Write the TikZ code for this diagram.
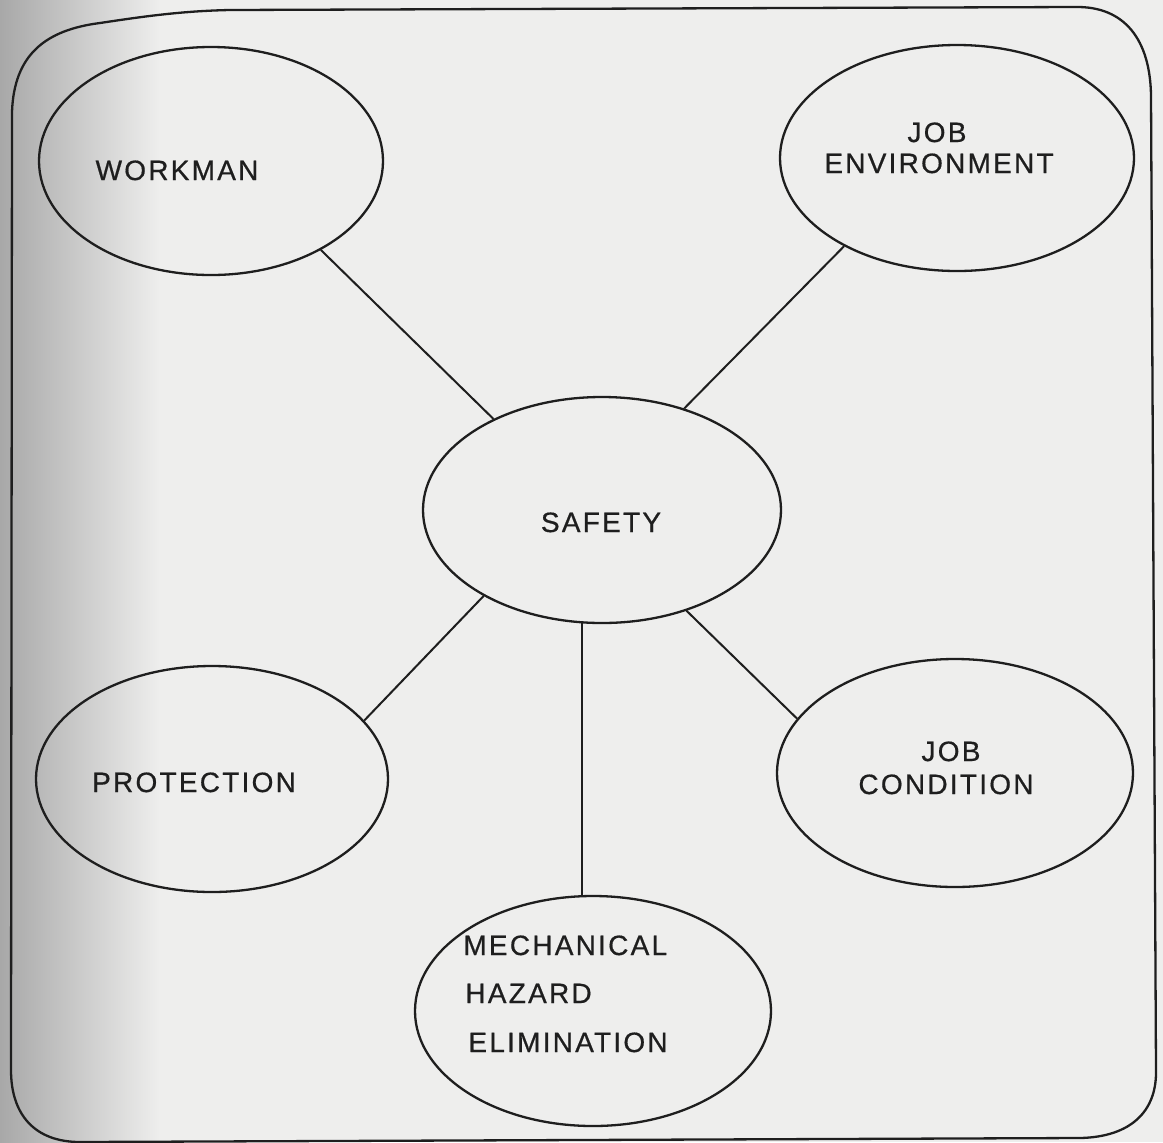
\documentclass[tikz,border=0pt]{standalone}
\usepackage{fontspec}
\setmainfont{Liberation Sans}[LetterSpace=8, FakeBold=0.6]
\usetikzlibrary{shapes.geometric}
\definecolor{page}{RGB}{238,238,237}
\definecolor{edge}{RGB}{168,168,168}
\definecolor{ink}{RGB}{30,30,30}
\begin{document}
\begin{tikzpicture}[x=0.5pt,y=-0.5pt,
  bubble/.style={draw=ink, line width=1.15pt, ellipse, inner sep=0pt},
  lbl/.style={font=\fontsize{14}{16}\selectfont, text=ink, inner sep=0pt, anchor=base},
  lblw/.style={lbl, anchor=base west},
  link/.style={draw=ink, line width=1pt}]
% paper
\fill[page] (0,0) rectangle (1163,1142);
\shade[left color=edge, right color=page] (0,0) rectangle (160,1142);
\useasboundingbox (0,0) rectangle (1163,1142);
% frame, slightly skewed as on the sheet
\draw[ink, line width=1.15pt]
  (11,1070) -- (12,112)
  .. controls (14,55) and (45,30) .. (100,23)
  .. controls (140,17) and (180,11) .. (230,10)
  -- (1075,7)
  .. controls (1125,6) and (1150,40) .. (1151,95)
  -- (1156,1070)
  .. controls (1157,1112) and (1130,1137) .. (1080,1138)
  -- (80,1142)
  .. controls (35,1142) and (11,1115) .. (11,1070) -- cycle;
% bubbles
\node[bubble, minimum width=172pt, minimum height=114pt] (w)  at (211,161) {};
\node[bubble, minimum width=177pt, minimum height=113pt] (je) at (957,158) {};
\node[bubble, minimum width=179pt, minimum height=113pt] (s)  at (602,510) {};
\node[bubble, minimum width=176pt, minimum height=113pt] (p)  at (212,779) {};
\node[bubble, minimum width=178pt, minimum height=114pt] (jc) at (955,773) {};
\node[bubble, minimum width=178pt, minimum height=115pt] (m)  at (593,1011) {};
% labels
\node[lbl] (wt)  at (177,180) {WORKMAN};
\node[lbl] (jet1) at (937,142) {JOB};
\node[lbl] (jet2) at (939,173) {ENVIRONMENT};
\node[lbl] (st)  at (601,532) {SAFETY};
\node[lbl] (pt)  at (194,792) {PROTECTION};
\node[lbl] (jct1) at (951,761) {JOB};
\node[lbl] (jct2) at (946,794) {CONDITION};
\node[lblw] (mt1) at (463,955) {MECHANICAL};
\node[lblw] (mt2) at (465,1003) {HAZARD};
\node[lblw] (mt3) at (468,1052) {ELIMINATION};
% links
\draw[link] (w.-39) -- (s.140);
\draw[link] (je.218) -- (s.51);
\draw[link] (s.216) -- (p.21);
\draw[link] (s.310) -- (jc.161);
\draw[link] (s.260) -- (s.260 |- m.north);
\end{tikzpicture}
\end{document}
